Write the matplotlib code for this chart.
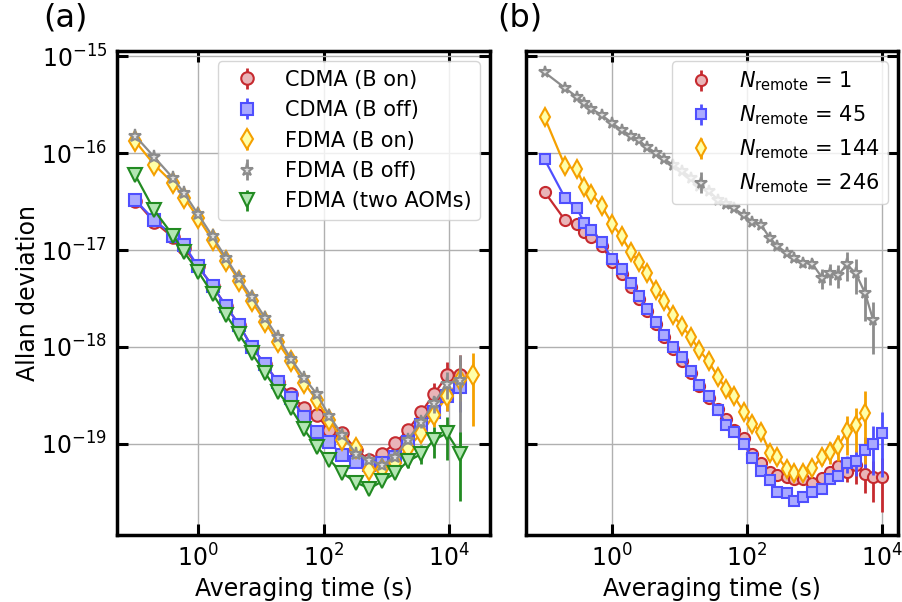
import numpy as np
import matplotlib
matplotlib.use("Agg")
import matplotlib.pyplot as plt
from matplotlib.ticker import NullLocator

# ---- panel (a) data ----
tau_a = [0.1, 0.2, 0.4, 0.6, 1.0, 1.7, 2.8, 4.5, 7.2, 11.7, 18.6, 30, 49, 78, 123,
         200, 330, 540, 850, 1380, 2190, 3630, 5750, 9330, 15100]
tau_a_long = tau_a + [24000]

cdma_on = [3.24e-17, 1.95e-17, 1.35e-17, 1.05e-17, 6.8e-18, 4.27e-18, 2.63e-18, 1.70e-18,
           1.0e-18, 6.6e-19, 4.4e-19, 3.24e-19, 2.34e-19, 2.0e-19, 1.38e-19, 1.29e-19,
           8.7e-20, 6.8e-20, 7.9e-20, 1.02e-19, 1.38e-19, 2.14e-19, 3.24e-19, 5.1e-19, 5.2e-19]
cdma_on_err = [0.02, 0.02, 0.02, 0.02, 0.02, 0.02, 0.02, 0.02, 0.02, 0.02, 0.02, 0.02, 0.02,
               0.02, 0.03, 0.03, 0.04, 0.05, 0.05, 0.06, 0.1, 0.15, 0.3, 0.38, 0.58]

cdma_off = [3.27e-17, 2.04e-17, 1.41e-17, 1.12e-17, 6.8e-18, 4.27e-18, 2.63e-18, 1.70e-18,
            1.0e-18, 6.6e-19, 4.4e-19, 2.95e-19, 1.91e-19, 1.32e-19, 1.05e-19, 7.6e-20,
            6.5e-20, 6.0e-20, 6.3e-20, 7.4e-20, 1.05e-19, 1.58e-19, 2.14e-19, 3.1e-19, 3.9e-19]
cdma_off_err = [0.02, 0.02, 0.02, 0.02, 0.02, 0.02, 0.02, 0.02, 0.02, 0.02, 0.02, 0.02, 0.02,
                0.02, 0.03, 0.03, 0.04, 0.05, 0.05, 0.06, 0.1, 0.15, 0.2, 0.3, 0.45]

fdma_on = [1.32e-16, 7.6e-17, 4.9e-17, 3.47e-17, 2.14e-17, 1.26e-17, 7.8e-18, 4.8e-18,
           2.95e-18, 1.82e-18, 1.12e-18, 7.1e-19, 4.27e-19, 2.82e-19, 1.78e-19, 1.10e-19,
           9.1e-20, 5.4e-20, 5.5e-20, 6.3e-20, 9.1e-20, 1.29e-19, 2.0e-19, 3.1e-19, 4.6e-19, 5.1e-19]
fdma_on_err = [0.02, 0.02, 0.02, 0.02, 0.02, 0.02, 0.02, 0.02, 0.02, 0.02, 0.02, 0.02, 0.02,
               0.02, 0.03, 0.03, 0.04, 0.05, 0.05, 0.06, 0.1, 0.15, 0.25, 0.3, 0.4, 0.7]

fdma_off = [1.50e-16, 9.1e-17, 5.5e-17, 3.85e-17, 2.34e-17, 1.38e-17, 8.2e-18, 5.1e-18,
            3.24e-18, 2.0e-18, 1.26e-18, 7.6e-19, 4.8e-19, 3.27e-19, 1.95e-19, 1.23e-19,
            7.9e-20, 6.9e-20, 6.0e-20, 7.4e-20, 1.10e-19, 1.70e-19, 2.63e-19, 4.2e-19, 4.6e-19]
fdma_off_err = [0.02, 0.02, 0.02, 0.02, 0.02, 0.02, 0.02, 0.02, 0.02, 0.02, 0.02, 0.02, 0.02,
                0.02, 0.03, 0.03, 0.04, 0.05, 0.05, 0.06, 0.1, 0.15, 0.2, 0.3, 0.8]

fdma_two = [5.9e-17, 2.57e-17, 1.41e-17, 9.5e-18, 6.0e-18, 3.55e-18, 2.14e-18, 1.35e-18,
            8.6e-19, 5.4e-19, 3.47e-19, 2.34e-19, 1.41e-19, 9.3e-20, 6.9e-20, 5.0e-20,
            4.0e-20, 3.47e-20, 4.1e-20, 5.0e-20, 6.6e-20, 7.9e-20, 1.10e-19, 1.29e-19, 7.9e-20]
fdma_two_err = [0.02, 0.02, 0.02, 0.02, 0.02, 0.02, 0.02, 0.02, 0.02, 0.02, 0.02, 0.02, 0.02,
                0.02, 0.03, 0.03, 0.04, 0.05, 0.06, 0.08, 0.15, 0.22, 0.35, 0.47, 0.67]

# ---- panel (b) data ----
tau_b = [0.1, 0.2, 0.3, 0.39, 0.49, 0.71, 1.0, 1.38, 1.9, 2.5, 3.3, 4.5, 5.9, 7.9, 10.7,
         14.8, 19.5, 26.9, 37.2, 49, 64.6, 89, 120, 162, 219, 282, 389, 501, 676, 933,
         1290, 1700, 2240, 3020, 4070, 5620, 7410, 10000]

n1 = [3.98e-17, 2.04e-17, 1.86e-17, 1.55e-17, 1.35e-17, 1.10e-17, 7.6e-18, 5.6e-18, 4.2e-18,
      3.16e-18, 2.34e-18, 1.74e-18, 1.26e-18, 9.5e-19, 7.2e-19, 5.4e-19, 4.0e-19, 3.0e-19,
      2.29e-19, 1.82e-19, 1.38e-19, 1.15e-19, 7.9e-20, 6.3e-20, 5.1e-20, 4.8e-20, 4.6e-20,
      4.3e-20, 4.3e-20, 4.0e-20, 4.5e-20, 5.1e-20, 5.9e-20, 5.1e-20, 6.0e-20, 4.9e-20,
      4.6e-20, 4.6e-20]
n1_err = [0.02, 0.02, 0.02, 0.02, 0.02, 0.02, 0.02, 0.02, 0.02, 0.02, 0.02, 0.02, 0.02, 0.02,
          0.02, 0.02, 0.02, 0.02, 0.02, 0.02, 0.02, 0.02, 0.03, 0.03, 0.03, 0.03, 0.04, 0.04,
          0.05, 0.06, 0.07, 0.1, 0.1, 0.2, 0.35, 0.37, 0.45, 0.57]

n45 = [8.6e-17, 3.47e-17, 2.69e-17, 1.91e-17, 1.62e-17, 1.20e-17, 8.1e-18, 6.3e-18, 4.6e-18,
       3.39e-18, 2.45e-18, 1.82e-18, 1.32e-18, 1.0e-18, 7.8e-19, 5.6e-19, 4.1e-19, 3.1e-19,
       2.24e-19, 1.58e-19, 1.32e-19, 1.0e-19, 7.2e-20, 5.2e-20, 4.2e-20, 3.16e-20, 3.09e-20,
       2.57e-20, 2.82e-20, 3.16e-20, 3.47e-20, 4.3e-20, 4.7e-20, 6.3e-20, 6.6e-20, 8.7e-20,
       1.0e-19, 1.29e-19]
n45_err = [0.02, 0.02, 0.02, 0.02, 0.02, 0.02, 0.02, 0.02, 0.02, 0.02, 0.02, 0.02, 0.02, 0.02,
           0.02, 0.02, 0.02, 0.02, 0.02, 0.02, 0.02, 0.02, 0.03, 0.03, 0.03, 0.03, 0.04, 0.04,
           0.05, 0.06, 0.07, 0.1, 0.1, 0.2, 0.3, 0.35, 0.52, 0.65]

n144 = [2.34e-16, 7.4e-17, 6.8e-17, 4.5e-17, 3.8e-17, 2.82e-17, 1.86e-17, 1.38e-17, 9.5e-18,
        7.6e-18, 5.8e-18, 3.9e-18, 3.0e-18, 2.14e-18, 1.66e-18, 1.26e-18, 9.3e-19, 7.1e-19,
        4.9e-19, 3.7e-19, 3.1e-19, 2.14e-19, 1.62e-19, 1.32e-19, 8.1e-20, 7.4e-20, 5.5e-20,
        5.0e-20, 5.0e-20, 5.6e-20, 7.4e-20, 8.3e-20, 9.5e-20, 1.35e-19, 1.58e-19, 2.09e-19]
n144_err = [0.02, 0.02, 0.02, 0.02, 0.02, 0.02, 0.02, 0.02, 0.02, 0.02, 0.02, 0.02, 0.02,
            0.02, 0.02, 0.02, 0.02, 0.02, 0.02, 0.02, 0.02, 0.02, 0.03, 0.03, 0.04, 0.05,
            0.06, 0.08, 0.1, 0.12, 0.18, 0.25, 0.3, 0.43, 0.48, 0.7]

n246 = [6.8e-16, 4.7e-16, 3.8e-16, 3.3e-16, 2.88e-16, 2.45e-16, 2.04e-16, 1.74e-16, 1.51e-16,
        1.35e-16, 1.15e-16, 1.0e-16, 8.7e-17, 7.6e-17, 6.6e-17, 5.6e-17, 4.6e-17, 4.1e-17,
        3.3e-17, 3.0e-17, 2.69e-17, 2.29e-17, 1.95e-17, 1.82e-17, 1.32e-17, 1.10e-17, 9.3e-18,
        8.3e-18, 7.4e-18, 7.2e-18, 5.2e-18, 5.8e-18, 5.5e-18, 7.1e-18, 5.8e-18, 3.6e-18, 1.9e-18]
n246_err = [0.02, 0.02, 0.02, 0.02, 0.02, 0.02, 0.02, 0.02, 0.02, 0.02, 0.02, 0.02, 0.02,
            0.02, 0.02, 0.02, 0.02, 0.02, 0.02, 0.02, 0.03, 0.03, 0.03, 0.04, 0.05, 0.06,
            0.07, 0.08, 0.1, 0.12, 0.24, 0.25, 0.27, 0.33, 0.4, 0.48, 0.55]

# styles: (edge color, face color, marker)
RED = ("#c62a2f", "#e9b5b8", "o")
BLUE = ("#4f4fff", "#aaaaff", "s")
ORANGE = ("#f5a000", "#ffffa8", "d")
GRAY = ("#8c8c8c", "#dedede", "*")
GREEN = ("#228b22", "#b3e6b3", "v")


def draw(ax, x, y, rel, style, label, ms, z):
    edge, face, marker = style
    y = np.array(y)
    # connecting line kept out of the legend; legend shows marker + error bar only
    ax.plot(x, y, "-", color=edge, lw=1.6, zorder=z)
    ax.errorbar(x, y, yerr=np.array(rel) * y, fmt=marker, color=edge,
                mec=edge, mfc=face, ms=ms, mew=1.5, elinewidth=2,
                capsize=0, label=label, zorder=z)


fig = plt.figure(figsize=(9.02, 6.02), dpi=100)
ax1 = fig.add_axes([117 / 902, 1 - 535 / 602, 373 / 902, 484 / 602])
ax2 = fig.add_axes([526 / 902, 1 - 535 / 602, 372 / 902, 484 / 602])

draw(ax1, tau_a, cdma_on, cdma_on_err, RED, "CDMA (B on)", 9, 2.1)
draw(ax1, tau_a, cdma_off, cdma_off_err, BLUE, "CDMA (B off)", 8.5, 2.2)
draw(ax1, tau_a_long, fdma_on, fdma_on_err, ORANGE, "FDMA (B on)", 10, 2.3)
draw(ax1, tau_a, fdma_off, fdma_off_err, GRAY, "FDMA (B off)", 9.5, 2.4)
draw(ax1, tau_a, fdma_two, fdma_two_err, GREEN, "FDMA (two AOMs)", 9.5, 2.5)

draw(ax2, tau_b, n1, n1_err, RED, r"$N_{\rm remote}$ = 1", 8, 2.1)
draw(ax2, tau_b, n45, n45_err, BLUE, r"$N_{\rm remote}$ = 45", 7.5, 2.2)
draw(ax2, tau_b[:len(n144)], n144, n144_err, ORANGE, r"$N_{\rm remote}$ = 144", 9, 2.3)
draw(ax2, tau_b[:len(n246)], n246, n246_err, GRAY, r"$N_{\rm remote}$ = 246", 8.5, 2.4)

for ax, xlim in ((ax1, (0.051, 4.5e4)), (ax2, (0.053, 1.73e4))):
    ax.set_xscale("log")
    ax.set_yscale("log")
    ax.set_xlim(*xlim)
    ax.set_ylim(1.15e-20, 1.13e-15)
    ax.set_xticks([1, 1e2, 1e4])
    ax.set_yticks([1e-19, 1e-18, 1e-17, 1e-16, 1e-15])
    ax.xaxis.set_minor_locator(NullLocator())
    ax.yaxis.set_minor_locator(NullLocator())
    ax.grid(True, color="#b0b0b0", lw=1)
    ax.set_axisbelow(True)
    ax.tick_params(direction="in", length=8, width=2.2, top=True, right=True,
                   labelsize=17, pad=7)
    for sp in ax.spines.values():
        sp.set_linewidth(2.5)
    ax.set_xlabel("Averaging time (s)", fontsize=17)
    ax.legend(loc="upper right", fontsize=15)

ax2.tick_params(labelleft=False)
ax1.set_ylabel("Allan deviation", fontsize=17, labelpad=1)

fig.text(43 / 902, 1 - 18 / 602, "(a)", fontsize=23, va="center")
fig.text(497 / 902, 1 - 18 / 602, "(b)", fontsize=23, va="center")

fig.savefig("out.png", dpi=100)
